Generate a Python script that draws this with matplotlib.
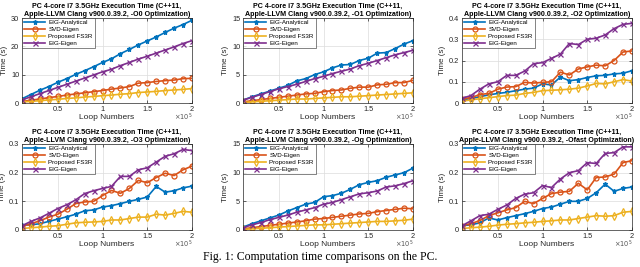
import matplotlib
matplotlib.use("Agg")
import matplotlib.pyplot as plt

plt.rcParams["font.family"] = ["Liberation Sans", "DejaVu Sans"]

# loop numbers (x 10^5)
loops = [0.1, 0.2, 0.3, 0.4, 0.5, 0.6, 0.7, 0.8, 0.9, 1.0,
         1.1, 1.2, 1.3, 1.4, 1.5, 1.6, 1.7, 1.8, 1.9, 2.0]

methods = ["EIG-Analytical", "SVD-Eigen", "Proposed FS3R", "EIG-Eigen"]
opts = ["-O0", "-O1", "-O2", "-O3", "-Og", "-Ofast"]

# -O0
o0_eig_an = [1.5, 3.0, 4.5, 5.8, 7.3, 8.6, 10.1, 11.4, 12.8, 14.3, 15.6, 17.4, 18.9, 20.5, 21.9, 23.3, 24.9, 26.4, 27.7, 29.2]
o0_svd = [0.5, 1.0, 1.4, 1.9, 2.3, 2.8, 3.2, 3.6, 4.0, 4.4, 4.9, 5.3, 5.8, 7.0, 7.2, 7.6, 7.9, 8.1, 8.6, 8.7]
o0_fs3r = [0.3, 0.6, 0.8, 1.1, 1.3, 1.6, 1.8, 2.1, 2.3, 2.6, 2.8, 3.1, 3.3, 3.7, 3.9, 4.1, 4.4, 4.6, 4.8, 5.1]
o0_eig_eig = [1.1, 2.2, 3.3, 4.4, 5.5, 6.6, 7.7, 8.8, 9.9, 11.0, 11.9, 13.2, 14.3, 15.5, 16.5, 17.6, 18.7, 19.8, 21.0, 22.0]

# -O1
o1_eig_an = [0.5, 1.1, 1.6, 2.1, 2.6, 3.1, 3.9, 4.3, 5.0, 5.5, 6.2, 6.7, 6.8, 7.5, 7.9, 8.8, 8.9, 9.6, 10.4, 11.0]
o1_svd = [0.2, 0.4, 0.6, 0.8, 1.0, 1.2, 1.4, 1.6, 1.7, 2.0, 2.2, 2.3, 2.6, 2.8, 2.8, 3.2, 3.3, 3.6, 3.6, 4.0]
o1_fs3r = [0.1, 0.2, 0.3, 0.4, 0.5, 0.6, 0.7, 0.7, 0.8, 0.9, 1.0, 1.1, 1.1, 1.2, 1.3, 1.4, 1.5, 1.6, 1.7, 1.8]
o1_eig_eig = [0.5, 1.0, 1.5, 2.0, 2.5, 2.9, 3.3, 3.8, 4.3, 4.7, 5.2, 5.6, 6.0, 6.6, 7.0, 7.5, 8.0, 8.5, 8.9, 9.3]

# -O2
o2_eig_an = [0.015, 0.02, 0.03, 0.038, 0.045, 0.05, 0.058, 0.065, 0.07, 0.09, 0.085, 0.122, 0.105, 0.11, 0.12, 0.128, 0.13, 0.137, 0.14, 0.152]
o2_svd = [0.02, 0.025, 0.04, 0.045, 0.065, 0.075, 0.077, 0.097, 0.094, 0.097, 0.10, 0.145, 0.132, 0.16, 0.17, 0.178, 0.175, 0.20, 0.24, 0.245]
o2_fs3r = [0.008, 0.015, 0.02, 0.025, 0.03, 0.035, 0.037, 0.045, 0.05, 0.058, 0.06, 0.062, 0.065, 0.07, 0.08, 0.092, 0.09, 0.10, 0.11, 0.103]
o2_eig_eig = [0.022, 0.035, 0.065, 0.09, 0.1, 0.13, 0.13, 0.15, 0.185, 0.19, 0.21, 0.23, 0.28, 0.275, 0.30, 0.305, 0.32, 0.35, 0.37, 0.375]

# -O3
o3_eig_an = [0.017, 0.018, 0.022, 0.03, 0.038, 0.046, 0.055, 0.067, 0.07, 0.08, 0.085, 0.092, 0.1, 0.107, 0.115, 0.152, 0.132, 0.137, 0.147, 0.153]
o3_svd = [0.012, 0.022, 0.032, 0.045, 0.055, 0.072, 0.092, 0.098, 0.1, 0.12, 0.138, 0.128, 0.145, 0.173, 0.165, 0.183, 0.198, 0.19, 0.21, 0.223]
o3_fs3r = [0.005, 0.008, 0.01, 0.013, 0.015, 0.02, 0.025, 0.027, 0.028, 0.03, 0.035, 0.035, 0.04, 0.045, 0.045, 0.055, 0.052, 0.058, 0.065, 0.062]
o3_eig_eig = [0.015, 0.03, 0.042, 0.058, 0.075, 0.088, 0.105, 0.127, 0.137, 0.145, 0.152, 0.187, 0.187, 0.21, 0.217, 0.237, 0.257, 0.266, 0.281, 0.277]

# -Og
og_eig_an = [0.5, 1.1, 1.6, 2.1, 2.6, 3.3, 3.9, 4.5, 4.8, 5.8, 6.0, 6.4, 7.1, 7.9, 8.3, 8.6, 9.2, 9.6, 10.0, 10.8]
og_svd = [0.2, 0.4, 0.6, 0.8, 1.0, 1.2, 1.4, 1.6, 1.9, 2.0, 2.2, 2.4, 2.6, 2.8, 2.9, 3.2, 3.4, 3.6, 3.8, 3.7]
og_fs3r = [0.1, 0.2, 0.3, 0.4, 0.5, 0.6, 0.7, 0.8, 0.9, 0.9, 1.0, 1.1, 1.2, 1.3, 1.4, 1.5, 1.5, 1.6, 1.7, 1.9]
og_eig_eig = [0.4, 0.9, 1.3, 1.8, 2.2, 2.6, 3.1, 3.5, 3.9, 4.5, 4.8, 5.3, 5.8, 6.3, 6.5, 6.8, 7.5, 7.7, 8.1, 8.6]

# -Ofast
of_eig_an = [0.015, 0.018, 0.025, 0.042, 0.035, 0.043, 0.05, 0.057, 0.065, 0.075, 0.08, 0.09, 0.1, 0.1, 0.11, 0.13, 0.16, 0.135, 0.145, 0.15]
of_svd = [0.015, 0.022, 0.033, 0.05, 0.06, 0.07, 0.078, 0.1, 0.092, 0.11, 0.127, 0.132, 0.135, 0.163, 0.14, 0.183, 0.185, 0.195, 0.235, 0.242]
of_fs3r = [0.005, 0.008, 0.01, 0.013, 0.017, 0.02, 0.022, 0.025, 0.027, 0.03, 0.032, 0.035, 0.035, 0.04, 0.045, 0.05, 0.048, 0.05, 0.062, 0.065]
of_eig_eig = [0.015, 0.032, 0.05, 0.055, 0.072, 0.087, 0.11, 0.125, 0.13, 0.155, 0.148, 0.178, 0.2, 0.207, 0.235, 0.232, 0.267, 0.27, 0.29, 0.29]

series = [
    [o0_eig_an, o0_svd, o0_fs3r, o0_eig_eig],
    [o1_eig_an, o1_svd, o1_fs3r, o1_eig_eig],
    [o2_eig_an, o2_svd, o2_fs3r, o2_eig_eig],
    [o3_eig_an, o3_svd, o3_fs3r, o3_eig_eig],
    [og_eig_an, og_svd, og_fs3r, og_eig_eig],
    [of_eig_an, of_svd, of_fs3r, of_eig_eig],
]
ylims = [30, 15, 0.4, 0.3, 15, 0.3]
yticks = [[0, 10, 20, 30], [0, 5, 10, 15], [0, 0.1, 0.2, 0.3, 0.4],
          [0, 0.1, 0.2, 0.3], [0, 5, 10, 15], [0, 0.1, 0.2, 0.3]]

colors = ["#0072BD", "#D95319", "#EDB120", "#7E2F8E"]
markers = ["*", "o", "d", "x"]

W, H = 640, 267
fig = plt.figure(figsize=(6.4, 2.67), dpi=100)
lefts = [22, 243, 462]
width = 170
rows = [(18, 103), (144, 230)]

for i in range(6):
    r, c = divmod(i, 3)
    top, bot = rows[r]
    ax = fig.add_axes([lefts[c] / W, 1 - bot / H, width / W, (bot - top) / H])
    for k in range(4):
        mfc = colors[k] if markers[k] == "*" else "none"
        ax.plot(loops, series[i][k], color=colors[k], marker=markers[k],
                markersize=3.6, markerfacecolor=mfc, linewidth=1.2,
                markeredgewidth=0.9, label=methods[k])
    ax.set_xlim(0.1, 2.0)
    ax.set_ylim(0, ylims[i])
    ax.set_xticks([0.5, 1, 1.5, 2])
    ax.set_xticklabels(["0.5", "1", "1.5", "2"])
    ax.set_yticks(yticks[i])
    ax.set_yticklabels([f"{v:g}" for v in yticks[i]])
    ax.tick_params(direction="in", labelsize=5.3, length=2, width=0.5,
                   colors="#262626", pad=2, top=True, right=True)
    for s in ax.spines.values():
        s.set_linewidth(0.5)
        s.set_color("#262626")
    ax.grid(True, color="#dcdcdc", linewidth=0.5)
    ax.set_axisbelow(True)
    ax.set_xlabel("Loop Numbers", fontsize=6, labelpad=1, color="#262626")
    ax.set_ylabel("Time (s)", fontsize=5.8, labelpad=2, color="#262626")
    ax.text(1.0, -0.17, r"$\times10^5$", transform=ax.transAxes, ha="right",
            va="center", fontsize=4.8, color="#555555")
    ax.set_title("PC 4-core i7 3.5GHz Execution Time (C++11,\n"
                 f"Apple-LLVM Clang v900.0.39.2, {opts[i]} Optimization)",
                 fontsize=5.1, fontweight="bold", pad=1.5, linespacing=1.2)
    leg = ax.legend(loc="upper left", fontsize=4.5, frameon=True, fancybox=False,
                    edgecolor="#262626", borderpad=0.3, labelspacing=0.25,
                    handlelength=3.4, handletextpad=0.5, borderaxespad=0.0)
    leg.get_frame().set_linewidth(0.5)

fig.text(0.5, 1 - 257 / H, "Fig. 1: Computation time comparisons on the PC.",
         ha="center", va="center", fontsize=8.5, family="Liberation Serif")

fig.savefig("out.png", dpi=100)
